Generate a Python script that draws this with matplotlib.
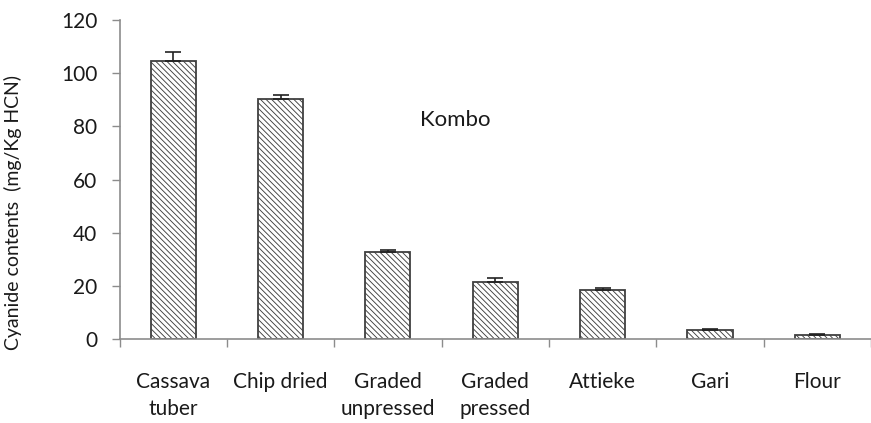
import matplotlib
matplotlib.use("Agg")
import matplotlib.pyplot as plt
import numpy as np

categories = ["Cassava\ntuber", "Chip dried", "Graded\nunpressed", "Graded\npressed", "Attieke", "Gari", "Flour"]
values = [104.6, 90.4, 32.6, 21.4, 18.5, 3.2, 1.5]
errors = [3.5, 1.4, 0.8, 1.5, 0.7, 0.7, 0.3]
yticks = [0, 20, 40, 60, 80, 100, 120]

plt.rcParams['font.family'] = ['Lato', 'DejaVu Sans']
plt.rcParams['hatch.color'] = '#a8a8a8'
plt.rcParams['hatch.linewidth'] = 0.65

fig = plt.figure(figsize=(8.71, 4.23), dpi=100)
W, H = 871, 423
left, right, top, bottom = 119.5, 871, 20, 339
ax = fig.add_axes([left / W, 1 - bottom / H, (right - left) / W, (bottom - top) / H])

x = np.arange(len(categories))
ax.bar(x, values, width=0.42, color='white', edgecolor='#404040', linewidth=1.3,
       hatch='\\' * 6, zorder=2)
ax.errorbar(x, values, yerr=[np.zeros(len(values)), errors], fmt='none',
            ecolor='#222222', elinewidth=1.2, capsize=6, capthick=1.2, zorder=3)

cat_w = 108.5
ax.set_xlim(-0.5, -0.5 + (right - left) / cat_w)
ax.set_ylim(0, 120)
ax.set_yticks(yticks)
ax.set_yticklabels([str(v) for v in yticks], fontsize=15, color='#1a1a1a')
ax.set_xticks(np.arange(-0.5, len(categories), 1.0))
ax.set_xticklabels([])
ax.set_xticks(x, minor=True)
ax.set_xticklabels(categories, minor=True, fontsize=15, color='#1a1a1a', linespacing=1.4)
ax.tick_params(axis='x', which='minor', length=0, pad=24)
ax.tick_params(axis='x', which='major', length=6, color='#8c8c8c', width=1)
ax.tick_params(axis='y', length=6, color='#8c8c8c', width=1, pad=10)

for s in ['top', 'right']:
    ax.spines[s].set_visible(False)
for s in ['left', 'bottom']:
    ax.spines[s].set_color('#8c8c8c')
    ax.spines[s].set_linewidth(1.2)

ax.set_ylabel("Cyanide contents  (mg/Kg HCN)", fontsize=14, color='#1a1a1a')
ax.yaxis.set_label_coords(-(left - 22) / (right - left), (bottom - 212) / (bottom - top))

fig.text(455 / W, 1 - 120 / H, "Kombo", fontsize=16, color='#1a1a1a', ha='center', va='center')

fig.savefig("out.png", dpi=100)
